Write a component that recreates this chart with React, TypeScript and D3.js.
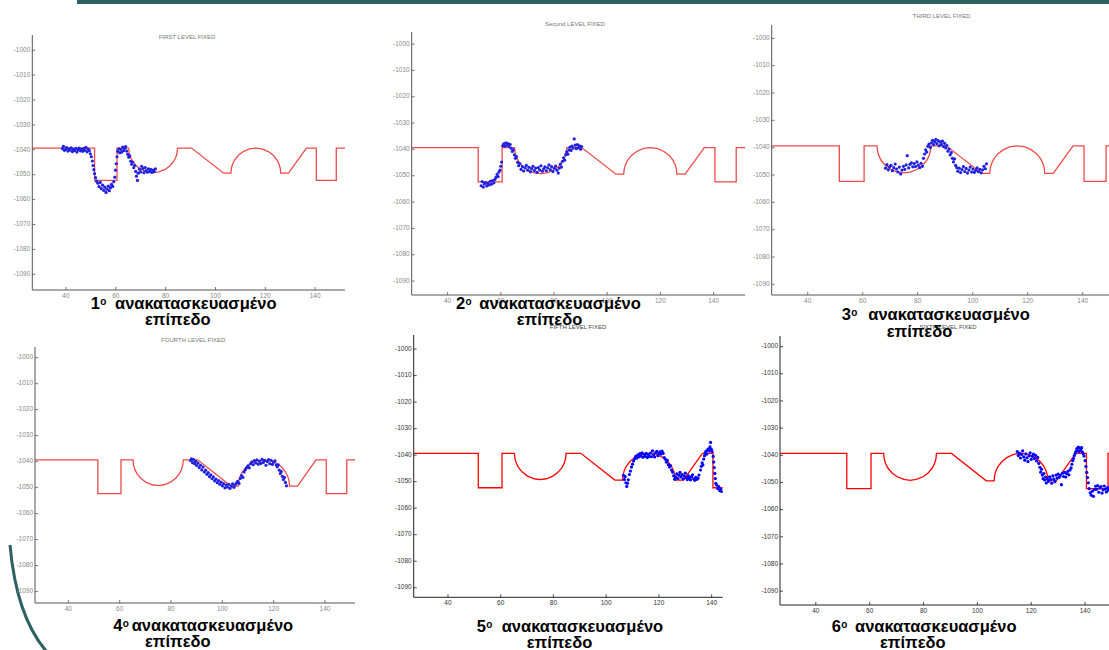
import * as d3 from 'd3';

// reference profile (same surface in every panel)
const profile: [number, number][] = [
  [20, -1039.3], [51.5, -1039.3], [51.5, -1052.3], [60.5, -1052.3], [60.5, -1039.3], [65.2, -1039.3],
  [65.4, -1041.3], [65.9, -1043.0], [66.7, -1044.6], [68.2, -1046.4], [70.2, -1047.9], [72.7, -1048.9],
  [75.0, -1049.2], [77.3, -1048.9], [79.8, -1047.9], [81.8, -1046.4], [83.3, -1044.6], [84.1, -1043.0],
  [84.6, -1041.3], [84.8, -1039.3],
  [90.4, -1039.3], [103.3, -1049.4], [106.2, -1049.4],
  [106.4, -1047.4], [106.9, -1045.7], [107.7, -1044.1], [109.2, -1042.2], [111.2, -1040.7], [113.7, -1039.6],
  [116.2, -1039.3], [118.7, -1039.6], [121.2, -1040.7], [123.2, -1042.2], [124.7, -1044.1], [125.5, -1045.7],
  [126.0, -1047.4], [126.2, -1049.4],
  [129.3, -1049.4], [136.5, -1039.3], [140.5, -1039.3], [140.5, -1052.3], [148.5, -1052.3], [148.5, -1039.3],
  [160, -1039.3],
];

const dots1: [number, number][] = [
  [38.6, -1039.5], [39.0, -1038.6], [39.4, -1040.2], [39.9, -1039.8], [40.3, -1039.1], [40.8, -1040.5], [41.2, -1039.6],
  [41.7, -1040.1], [42.1, -1039.2], [42.6, -1040.7], [43.0, -1039.8], [43.5, -1040.3], [44.0, -1039.4], [44.4, -1040.9],
  [44.9, -1039.9], [45.3, -1039.3], [45.8, -1040.4], [46.2, -1039.7], [46.7, -1040.6], [47.1, -1039.5], [47.6, -1040.2],
  [48.0, -1039.0], [48.5, -1040.8], [48.9, -1039.7], [49.4, -1040.3], [49.8, -1041.6], [50.2, -1042.8],
  [50.6, -1044.5], [50.9, -1046.3], [51.2, -1048.0], [51.5, -1049.6], [51.9, -1051.2], [52.3, -1052.6],
  [52.8, -1053.4], [53.3, -1054.8], [53.8, -1053.1], [54.2, -1055.6], [54.7, -1054.2], [55.2, -1056.3], [55.6, -1055.0],
  [56.1, -1057.1], [56.5, -1055.8], [57.0, -1054.6], [57.4, -1056.4], [57.9, -1055.2], [58.3, -1053.9], [58.8, -1054.7],
  [59.2, -1052.8],
  [59.6, -1051.0], [59.9, -1048.2], [60.2, -1045.6], [60.5, -1042.8], [60.8, -1040.6],
  [61.2, -1039.6], [61.6, -1041.2], [62.0, -1039.8], [62.4, -1040.9], [62.8, -1038.9], [63.2, -1040.3], [63.6, -1039.4],
  [64.0, -1038.7], [64.4, -1040.5],
  [64.8, -1041.8], [65.2, -1043.0], [65.6, -1042.4], [66.0, -1044.6], [66.4, -1045.8], [66.8, -1044.9], [67.2, -1047.2],
  [67.6, -1046.3], [68.0, -1048.7], [68.3, -1050.6], [68.7, -1052.3], [69.0, -1049.4],
  [69.5, -1047.8], [70.0, -1048.9], [70.4, -1046.6], [70.9, -1047.5], [71.3, -1049.2], [71.8, -1047.1], [72.2, -1048.4],
  [72.7, -1049.0], [73.1, -1047.6], [73.6, -1048.7], [74.0, -1047.9], [74.5, -1049.1], [75.0, -1048.2], [75.4, -1048.8],
  [75.9, -1047.7],
];

const dots2: [number, number][] = [
  [52.6, -1053.8], [53.0, -1052.2], [53.4, -1054.3], [53.8, -1053.1], [54.2, -1052.6], [54.7, -1053.9], [55.1, -1052.9],
  [55.6, -1053.5], [56.0, -1052.1], [56.5, -1053.2], [56.9, -1051.8], [57.4, -1052.7], [57.8, -1051.4], [58.2, -1050.6],
  [58.6, -1049.5], [59.0, -1050.3], [59.3, -1048.6], [59.7, -1047.9], [60.0, -1046.4], [60.3, -1044.8],
  [60.7, -1038.6], [61.1, -1037.9], [61.5, -1038.8], [61.9, -1037.5], [62.3, -1038.3], [62.7, -1037.8], [63.1, -1038.9],
  [63.5, -1038.1],
  [63.9, -1039.6], [64.3, -1040.8], [64.7, -1040.2], [65.1, -1042.1], [65.5, -1043.4], [65.9, -1042.7], [66.3, -1044.9],
  [66.7, -1046.2], [67.1, -1045.4],
  [67.6, -1047.6], [68.1, -1046.5], [68.6, -1048.2], [69.1, -1047.0], [69.6, -1046.1], [70.1, -1047.9], [70.6, -1046.8],
  [71.1, -1048.5], [71.6, -1047.3], [72.1, -1046.4], [72.6, -1048.0], [73.1, -1047.1], [73.6, -1048.7], [74.1, -1046.9],
  [74.6, -1047.8], [75.1, -1046.2], [75.6, -1048.3], [76.1, -1047.4], [76.6, -1046.6], [77.1, -1048.1], [77.6, -1047.0],
  [78.1, -1045.9], [78.6, -1047.7], [79.1, -1046.5], [79.6, -1048.4], [80.1, -1047.2], [80.6, -1046.3], [81.1, -1047.9],
  [81.6, -1049.0],
  [82.0, -1047.1], [82.4, -1045.6], [82.8, -1046.7], [83.2, -1044.5], [83.6, -1043.2], [84.0, -1044.1], [84.4, -1042.0],
  [84.8, -1040.9], [85.2, -1041.8], [85.6, -1040.2],
  [86.0, -1039.1], [86.4, -1040.4], [86.8, -1038.7], [87.2, -1039.5], [87.6, -1036.0], [88.0, -1038.4], [88.4, -1039.7],
  [88.8, -1038.2], [89.2, -1039.3], [89.6, -1038.6], [90.0, -1039.9], [90.4, -1038.9],
];

const dots3: [number, number][] = [
  [68.3, -1047.5], [68.8, -1046.2], [69.3, -1048.1], [69.8, -1047.0], [70.3, -1046.5], [70.8, -1048.4], [71.3, -1047.3],
  [71.8, -1046.0], [72.3, -1047.8], [72.8, -1048.9], [73.3, -1047.1], [73.8, -1049.6], [74.3, -1048.2], [74.8, -1046.8],
  [75.3, -1047.9], [75.8, -1046.3], [76.2, -1042.9], [76.7, -1047.4], [77.2, -1046.1], [77.7, -1045.5], [78.2, -1047.0],
  [78.7, -1045.8], [79.2, -1046.9], [79.7, -1045.2], [80.2, -1046.4], [80.7, -1047.3], [81.2, -1045.7], [81.7, -1046.8],
  [82.1, -1043.9], [82.5, -1042.3], [82.9, -1040.8], [83.3, -1041.6], [83.7, -1039.5], [84.1, -1038.7],
  [84.6, -1039.9], [85.0, -1038.2], [85.4, -1037.3], [85.8, -1038.9], [86.2, -1037.8], [86.6, -1036.9], [87.0, -1038.5],
  [87.4, -1037.4], [87.8, -1039.3], [88.2, -1037.9], [88.6, -1038.8], [89.0, -1037.6], [89.4, -1039.6], [89.8, -1038.4],
  [90.2, -1040.1],
  [90.6, -1039.2], [91.0, -1041.3], [91.4, -1040.5], [91.8, -1042.6], [92.2, -1041.8], [92.6, -1043.9], [93.0, -1045.2],
  [93.4, -1044.1], [93.8, -1046.5], [94.2, -1047.3],
  [94.6, -1048.6], [95.1, -1047.5], [95.6, -1049.1], [96.1, -1048.0], [96.6, -1046.9], [97.1, -1048.7], [97.6, -1047.6],
  [98.1, -1049.3], [98.6, -1048.2], [99.1, -1047.1], [99.6, -1048.9], [100.1, -1047.8], [100.6, -1049.0], [101.1, -1048.3],
  [101.6, -1047.4], [102.1, -1048.8], [102.6, -1047.9], [103.1, -1049.2], [103.6, -1048.1], [104.1, -1046.8], [104.6, -1047.7],
  [105.0, -1045.9],
];

const dots4: [number, number][] = [
  [87.6, -1039.6], [88.0, -1038.9], [88.4, -1040.4], [88.8, -1039.2], [89.2, -1040.8], [89.6, -1039.9],
  [90.0, -1041.5], [90.5, -1040.6], [91.0, -1042.3], [91.5, -1041.4], [92.0, -1043.2], [92.5, -1042.1], [93.0, -1044.0],
  [93.5, -1043.3], [94.0, -1044.9], [94.5, -1044.2], [95.0, -1045.8], [95.5, -1045.1], [96.0, -1046.6], [96.5, -1045.9],
  [97.0, -1047.4], [97.5, -1046.7], [98.0, -1048.1], [98.5, -1047.3], [99.0, -1048.7], [99.5, -1047.9],
  [100.0, -1049.3], [100.5, -1048.5], [101.0, -1050.1], [101.5, -1049.0], [102.0, -1049.8], [102.5, -1048.7], [103.0, -1050.3],
  [103.5, -1049.4], [104.0, -1048.6], [104.5, -1049.9], [105.0, -1048.9], [105.5, -1048.2],
  [106.0, -1047.6], [106.5, -1048.4], [107.0, -1046.5], [107.5, -1045.4], [108.0, -1046.1], [108.5, -1044.0], [109.0, -1043.1],
  [109.5, -1042.3], [110.0, -1041.6], [110.5, -1042.4], [111.0, -1040.8],
  [111.5, -1040.1], [112.0, -1041.2], [112.5, -1039.6], [113.0, -1040.5], [113.5, -1039.3], [114.0, -1041.0], [114.5, -1039.9],
  [115.0, -1040.7], [115.5, -1039.1], [116.0, -1040.3], [116.5, -1039.6], [117.0, -1041.4], [117.5, -1040.0], [118.0, -1039.2],
  [118.5, -1040.8], [119.0, -1039.5], [119.5, -1041.1], [120.0, -1040.2], [120.5, -1039.7], [121.0, -1041.3],
  [121.4, -1042.0], [121.8, -1041.2], [122.2, -1043.3], [122.6, -1044.6], [123.0, -1043.8], [123.4, -1045.7], [123.8, -1046.9],
  [124.2, -1046.1], [124.6, -1048.0], [125.0, -1049.3],
];

const dots5: [number, number][] = [
  [106.6, -1047.6], [106.9, -1049.2], [107.2, -1048.1], [107.5, -1050.4], [107.8, -1051.8], [108.1, -1050.6], [108.4, -1049.3],
  [108.8, -1047.3], [109.2, -1046.0], [109.6, -1044.5], [110.0, -1043.4], [110.4, -1042.2], [110.8, -1041.3], [111.2, -1040.5],
  [111.6, -1041.1],
  [112.0, -1039.9], [112.4, -1040.7], [112.8, -1039.4], [113.2, -1040.3], [113.6, -1039.1], [114.0, -1040.8], [114.4, -1039.7],
  [114.8, -1040.4], [115.2, -1039.3], [115.6, -1040.9], [116.0, -1039.8], [116.4, -1040.5], [116.8, -1039.2], [117.2, -1040.6],
  [117.6, -1038.4], [118.0, -1039.9], [118.4, -1040.7], [118.8, -1039.0], [119.2, -1038.6], [119.6, -1040.2], [120.0, -1039.4],
  [120.4, -1038.8], [120.8, -1039.6], [121.2, -1038.5], [121.6, -1039.3], [122.0, -1040.9], [122.4, -1041.5], [122.8, -1042.6],
  [123.2, -1042.0], [123.6, -1043.6], [124.0, -1044.5], [124.4, -1043.9], [124.8, -1045.6], [125.2, -1046.4], [125.6, -1047.8],
  [126.0, -1049.1],
  [126.4, -1048.3], [126.8, -1047.1], [127.2, -1048.8], [127.6, -1047.6], [128.0, -1046.5], [128.4, -1048.2], [128.8, -1047.3],
  [129.2, -1049.0], [129.6, -1047.9], [130.0, -1046.8], [130.4, -1048.5], [130.8, -1049.2], [131.2, -1047.8], [131.6, -1048.6],
  [132.0, -1049.3], [132.4, -1048.1], [132.8, -1047.4], [133.2, -1048.9], [133.6, -1049.5], [134.0, -1048.4], [134.4, -1049.1],
  [134.8, -1048.7], [135.2, -1047.5],
  [135.8, -1045.6], [136.1, -1044.2], [136.4, -1042.9], [136.7, -1043.7], [137.0, -1041.5], [137.3, -1040.2], [137.6, -1039.1],
  [137.9, -1038.5], [138.2, -1039.6], [138.5, -1038.0], [138.8, -1037.6], [139.1, -1038.4], [139.4, -1036.9], [139.6, -1035.2],
  [139.9, -1037.8], [140.2, -1038.7],
  [140.6, -1040.5], [140.8, -1042.6], [141.0, -1044.7], [141.2, -1046.9], [141.4, -1048.8], [141.6, -1050.6],
  [141.9, -1051.3], [142.3, -1052.6], [142.7, -1051.9], [143.1, -1053.4], [143.5, -1052.8], [143.8, -1053.7],
];

const dots6: [number, number][] = [
  [114.8, -1038.6], [115.2, -1040.1], [115.6, -1039.2], [116.0, -1041.0], [116.4, -1039.7], [116.8, -1038.4], [117.2, -1040.6],
  [117.6, -1041.8], [118.0, -1039.5], [118.4, -1040.9], [118.8, -1042.3], [119.2, -1040.2], [119.6, -1039.1], [120.0, -1041.5],
  [120.4, -1040.4], [120.8, -1039.6], [121.2, -1041.2], [121.6, -1040.0], [122.0, -1042.1], [122.4, -1040.8], [122.8, -1043.0],
  [123.2, -1044.4], [123.5, -1046.2], [123.8, -1045.1], [124.1, -1047.3], [124.4, -1048.6], [124.7, -1046.7], [125.0, -1049.1],
  [125.3, -1048.0], [125.6, -1050.2],
  [126.0, -1048.7], [126.4, -1049.6], [126.8, -1047.9], [127.2, -1048.9], [127.6, -1050.3], [128.0, -1047.6], [128.4, -1048.8],
  [128.8, -1049.7], [129.2, -1047.3], [129.6, -1048.4], [130.0, -1046.9], [130.4, -1048.1], [130.8, -1047.4], [131.2, -1050.8],
  [131.6, -1046.6], [132.0, -1047.8], [132.4, -1046.3], [132.8, -1048.0], [133.2, -1046.8], [133.6, -1045.9], [134.0, -1047.2],
  [134.4, -1045.4],
  [134.8, -1044.6], [135.1, -1043.3], [135.4, -1042.0], [135.7, -1041.2], [136.0, -1040.1], [136.3, -1039.3], [136.6, -1038.6],
  [136.9, -1037.5], [137.2, -1038.3], [137.5, -1037.0], [137.8, -1038.6], [138.1, -1037.4], [138.4, -1038.1], [138.7, -1037.2],
  [139.0, -1038.8], [139.3, -1039.4], [139.6, -1040.3],
  [140.0, -1042.0], [140.3, -1044.1], [140.6, -1046.3], [140.9, -1048.2], [141.2, -1050.1],
  [141.5, -1052.3], [141.9, -1053.8], [142.3, -1054.7], [142.7, -1053.2], [143.1, -1055.1], [143.5, -1052.6], [143.9, -1051.4],
  [144.3, -1052.5], [144.7, -1051.2], [145.1, -1053.6], [145.5, -1052.0], [145.9, -1051.5], [146.3, -1053.9], [146.7, -1052.7],
  [147.1, -1051.3], [147.5, -1052.4], [147.9, -1053.5], [148.3, -1051.9], [148.7, -1052.8],
];

const titles = ['FIRST LEVEL FIXED', 'Second LEVEL FIXED', 'THIRD LEVEL FIXED', 'FOURTH LEVEL FIXED', 'FIFTH LEVEL FIXED', 'SIXTH LEVEL FIXED'];
const ordinals = ['1', '2', '3', '4', '5', '6'];
const captionWord = 'ανακατασκευασμένο';
const captionLine2 = 'επίπεδο';
const yTicks = [-1000, -1010, -1020, -1030, -1040, -1050, -1060, -1070, -1080, -1090];
const xTicks = [40, 60, 80, 100, 120, 140];
const allDots = [dots1, dots2, dots3, dots4, dots5, dots6];

// panel layout (pixels) and axis limits
const panels = [
  { left: 32.3, right: 345, top: 35, bottom: 290, xd: [26.5, 152], yd: [-1096.3, -993.9], tx: 187, ty: 37, soft: true,
    cap: { num: 90.7, word: 115, l2: 145, b1: 309, b2: 325 } },
  { left: 411.7, right: 745, top: 32, bottom: 295, xd: [26.5, 151.8], yd: [-1095.3, -995.4], tx: 575, ty: 24, soft: true,
    cap: { num: 456, word: 479.3, l2: 516.7, b1: 309, b2: 325 } },
  { left: 771.7, right: 1115.7, top: 25, bottom: 295, xd: [26.9, 152], yd: [-1093.9, -995.1], tx: 941.5, ty: 16, soft: true,
    cap: { num: 841.7, word: 868.3, l2: 886.7, b1: 320, b2: 337 } },
  { left: 35, right: 355, top: 347, bottom: 603, xd: [27, 151.7], yd: [-1094.4, -995.9], tx: 193.3, ty: 340, soft: true,
    cap: { num: 113.3, word: 131.7, l2: 145, b1: 631, b2: 647 } },
  { left: 413.7, right: 722.7, top: 335, bottom: 597.3, xd: [27, 144.2], yd: [-1093.6, -994.7], tx: 578, ty: 327, soft: false,
    cap: { num: 476.7, word: 501.7, l2: 526.7, b1: 632, b2: 648 } },
  { left: 780, right: 1115, top: 336, bottom: 605, xd: [26.7, 151.1], yd: [-1095.1, -996.1], tx: 948, ty: 327, soft: false,
    cap: { num: 831.7, word: 855, l2: 880, b1: 632, b2: 648 } },
];

const font = 'Liberation Sans, Arial, sans-serif';

function Panel({ p, i }: { p: any; i: number }) {
  const x = d3.scaleLinear().domain(p.xd).range([p.left, p.right]);
  const y = d3.scaleLinear().domain(p.yd).range([p.bottom, p.top]);
  const line = d3.line<[number, number]>().x((d) => x(d[0])).y((d) => y(d[1]));
  const axisColor = p.soft ? '#555' : '#222';
  const labelColor = p.soft ? '#888' : '#333';
  const red = p.soft ? '#ee4a4a' : '#ff0000';
  const blue = p.soft ? '#2020e0' : '#0000ff';
  const clipId = `clip${i}`;
  return (
    <g>
      <clipPath id={clipId}>
        <rect x={p.left} y={p.top} width={p.right - p.left} height={p.bottom - p.top} />
      </clipPath>
      <text x={p.tx} y={p.ty} textAnchor="middle" dominantBaseline="middle" fontSize={6} fill={p.soft ? '#777' : '#444'} fontFamily={font}>
        {titles[i]}
      </text>
      <g clipPath={`url(#${clipId})`}>
        <path d={line(profile) || ''} fill="none" stroke={red} strokeWidth={1.3} />
        {allDots[i].map((d, k) => (
          <circle key={k} cx={x(d[0])} cy={y(d[1])} r={1.6} fill={blue} />
        ))}
      </g>
      <line x1={p.left} x2={p.left} y1={p.top} y2={p.bottom} stroke={axisColor} strokeWidth={1} />
      <line x1={p.left} x2={p.right} y1={p.bottom} y2={p.bottom} stroke={axisColor} strokeWidth={1} />
      {yTicks.map((t) => (
        <g key={t}>
          <line x1={p.left} x2={p.left + 3} y1={y(t)} y2={y(t)} stroke={axisColor} strokeWidth={0.8} />
          <text x={p.left - 2} y={y(t)} textAnchor="end" dominantBaseline="middle" fontSize={6.5} fill={labelColor} fontFamily={font}>
            {t}
          </text>
        </g>
      ))}
      {xTicks.map((t) => (
        <g key={t}>
          <line x1={x(t)} x2={x(t)} y1={p.bottom} y2={p.bottom - 3} stroke={axisColor} strokeWidth={0.8} />
          <text x={x(t)} y={p.bottom + 6} textAnchor="middle" dominantBaseline="middle" fontSize={6.5} fill={labelColor} fontFamily={font}>
            {t}
          </text>
        </g>
      ))}
    </g>
  );
}

function Caption({ p, i }: { p: any; i: number }) {
  const c = p.cap;
  return (
    <g fontFamily={font} fontWeight="bold" fill="#000">
      <text x={c.num} y={c.b1} fontSize={16.5}>{ordinals[i]}</text>
      <text x={c.num + 9.5} y={c.b1 - 4} fontSize={10}>ο</text>
      <text x={c.word} y={c.b1} fontSize={16.5}>{captionWord}</text>
      <text x={c.l2} y={c.b2} fontSize={16.5}>{captionLine2}</text>
    </g>
  );
}

export default function App() {
  return (
    <svg width={1109} height={650} style={{ position: 'absolute', left: 0, top: 0, background: '#fff' }}>
      <rect x={0} y={0} width={1109} height={650} fill="#fff" />
      <rect x={77} y={0} width={1032} height={4} fill="#2e6262" />
      <path d="M 10 545 C 14 590, 26 628, 47 652" fill="none" stroke="#2e6262" strokeWidth={3} />
      {panels.map((p, i) => (
        <Panel key={i} p={p} i={i} />
      ))}
      {panels.map((p, i) => (
        <Caption key={i} p={p} i={i} />
      ))}
    </svg>
  );
}
